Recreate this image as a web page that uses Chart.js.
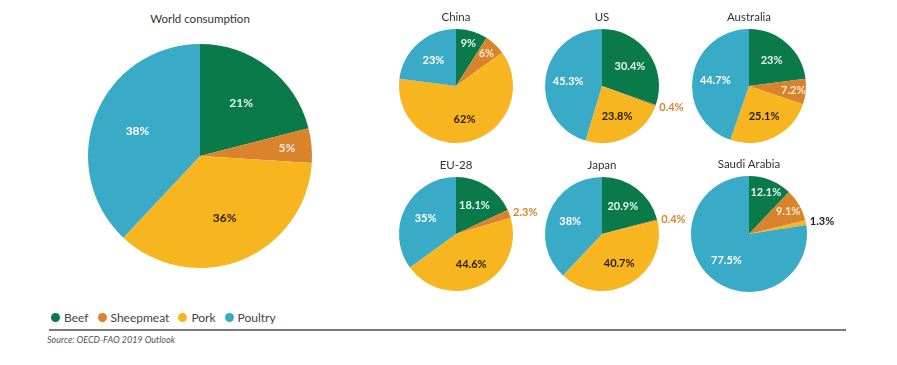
<!DOCTYPE html>
<html>
<head>
<meta charset="utf-8">
<script src="https://cdn.jsdelivr.net/npm/chart.js@4.4.1/dist/chart.umd.min.js"></script>
<style>
  html, body { margin: 0; padding: 0; background: #fff; }
  body { width: 897px; height: 365px; position: relative; overflow: hidden; font-family: Lato, "Open Sans", sans-serif; }
  .box { position: absolute; }
  .ttl { position: absolute; font-size: 11.5px; color: #333; text-align: center; width: 200px; }
  .legend { position: absolute; left: 51px; top: 310px; display: flex; align-items: center; font-size: 12px; color: #444; }
  .legend span { display: flex; align-items: center; margin-right: 9px; }
  .legend i { width: 9px; height: 9px; border-radius: 50%; display: inline-block; margin-right: 4px; }
  .rule { position: absolute; left: 49px; top: 329px; width: 797px; height: 2px; background: #7a7a7a; }
  .src { position: absolute; left: 47px; top: 334px; font-size: 9px; font-style: italic; color: #555; }
</style>
</head>
<body>
<div id="stage"></div>
<div class="legend" id="legend"></div>
<div class="rule"></div>
<div class="src">Source: OECD-FAO 2019 Outlook</div>
<script>
// categories, clockwise from 12 o'clock
const meats  = ['Beef', 'Sheepmeat', 'Pork', 'Poultry'];
const colors = ['#0a7a4a', '#d9832c', '#f7b51f', '#3aabc7'];

// shares (%) per region
const regions = ['World consumption', 'China', 'US', 'Australia', 'EU-28', 'Japan', 'Saudi Arabia'];
const world     = [21, 5, 36, 38];
const china     = [9, 6, 62, 23];
const us        = [30.4, 0.4, 23.8, 45.3];
const australia = [23, 7.2, 25.1, 44.7];
const eu28      = [18.1, 2.3, 44.6, 35];
const japan     = [20.9, 0.4, 40.7, 38];
const saudi     = [12.1, 9.1, 1.3, 77.5];
const series = [world, china, us, australia, eu28, japan, saudi];

// label text colour inside each slice
const insideText = ['#e6f7ee', '#fbe9d6', '#2a1d05', '#ffffff'];
// small slices labelled outside the pie
const outsideText = ['#333', '#d9832c', '#222', '#333'];

// layout: centre x/y and radius of each pie
const layout = [
  {cx: 200, cy: 156, r: 112},
  {cx: 456, cy: 86,  r: 57}, {cx: 602, cy: 86,  r: 57}, {cx: 749, cy: 86,  r: 57},
  {cx: 456, cy: 234, r: 57}, {cx: 602, cy: 234, r: 57}, {cx: 749, cy: 234, r: 58},
];

const sliceLabels = {
  id: 'sliceLabels',
  afterDatasetsDraw(chart) {
    const ctx = chart.ctx;
    const meta = chart.getDatasetMeta(0);
    const data = chart.data.datasets[0].data;
    const big = chart.options.plugins.sliceLabels.big;
    ctx.save();
    ctx.font = `bold ${big ? 12 : 11}px Lato, "Open Sans", sans-serif`;
    ctx.textBaseline = 'middle';
    meta.data.forEach((arc, i) => {
      const v = data[i];
      const mid = (arc.startAngle + arc.endAngle) / 2;
      const R = arc.outerRadius;
      const txt = v + '%';
      if (v < 3) {
        const x = arc.x + Math.cos(mid) * (R + 4);
        const y = arc.y + Math.sin(mid) * (R + 4);
        ctx.textAlign = 'left';
        ctx.fillStyle = outsideText[i];
        ctx.fillText(txt, x, y);
      } else {
        const f = v < 15 ? 0.78 : 0.6;
        ctx.textAlign = 'center';
        ctx.fillStyle = insideText[i];
        ctx.fillText(txt, arc.x + Math.cos(mid) * R * f, arc.y + Math.sin(mid) * R * f);
      }
    });
    ctx.restore();
  }
};

const stage = document.getElementById('stage');
regions.forEach((name, k) => {
  const L = layout[k];
  const pad = 4;
  const w = L.r * 2 + 100, h = L.r * 2 + pad * 2;
  const box = document.createElement('div');
  box.className = 'box';
  box.style.left = (L.cx - w / 2) + 'px';
  box.style.top = (L.cy - h / 2) + 'px';
  box.style.width = w + 'px';
  box.style.height = h + 'px';
  const cv = document.createElement('canvas');
  box.appendChild(cv);
  stage.appendChild(box);

  const t = document.createElement('div');
  t.className = 'ttl';
  t.textContent = name;
  t.style.left = (L.cx - 100) + 'px';
  t.style.top = (k === 0 ? 12 : (L.cy - L.r - 19)) + 'px';
  stage.appendChild(t);

  new Chart(cv.getContext('2d'), {
    type: 'pie',
    data: {
      labels: meats,
      datasets: [{ data: series[k], backgroundColor: colors, borderWidth: 0 }],
    },
    options: {
      responsive: true, maintainAspectRatio: false, animation: false,
      layout: { padding: pad },
      plugins: { legend: {display: false}, tooltip: {enabled: false}, sliceLabels: { big: k === 0 } },
    },
    plugins: [sliceLabels],
  });
});

document.getElementById('legend').innerHTML =
  meats.map((m, i) => `<span><i style="background:${colors[i]}"></i>${m}</span>`).join('');
</script>
</body>
</html>
